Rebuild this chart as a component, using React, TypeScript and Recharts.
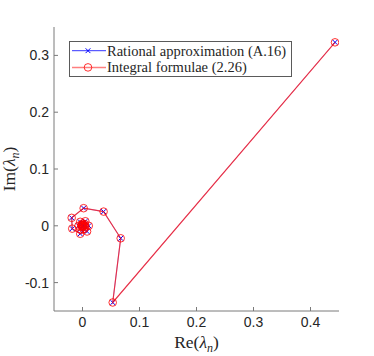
import React from 'react';
import { ScatterChart, Scatter, XAxis, YAxis, Legend } from 'recharts';

const reValues = [
  0.443, 0.053, 0.067, 0.037, 0.002, -0.019, -0.018, -0.004, 0.008, 0.011,
  0.005, -0.004, -0.007, -0.004, 0.002, 0.005, 0.004, 0.0, -0.002, -0.002,
  0.0, 0.002, 0.001, 0.0,
];
const imValues = [
  0.323, -0.135, -0.022, 0.025, 0.031, 0.014, -0.005, -0.014, -0.010, 0.0,
  0.008, 0.007, 0.0, -0.006, -0.006, -0.002, 0.003, 0.004, 0.002, -0.001,
  -0.002, -0.001, 0.001, 0.0,
];
const xTicks = [0, 0.1, 0.2, 0.3, 0.4];
const yTicks = [-0.1, 0, 0.1, 0.2, 0.3];
const seriesNames = ['Rational approximation (A.16)', 'Integral formulae (2.26)'];

const points = reValues.map((re, i) => ({ re, im: imValues[i] }));

const AXIS_COLOR = '#7a7a7a';
const TEXT_COLOR = '#262626';
const BLUE = '#0000ff';
const RED = 'rgba(255,0,0,0.7)';
const RED_LEGEND = 'rgba(255,0,0,0.5)';
const RED_MARK = 'rgba(255,0,0,0.8)';
const TICK_LEN = 4;

const CrossShape = (props: any) => {
  const { cx, cy } = props;
  const s = 2.4;
  return (
    <g>
      <line x1={cx - s} y1={cy - s} x2={cx + s} y2={cy + s} stroke={BLUE} strokeWidth={1} />
      <line x1={cx - s} y1={cy + s} x2={cx + s} y2={cy - s} stroke={BLUE} strokeWidth={1} />
    </g>
  );
};

const CircleShape = (props: any) => {
  const { cx, cy } = props;
  return <circle cx={cx} cy={cy} r={3.8} fill="none" stroke={RED_MARK} strokeWidth={1} />;
};

const fmt = (v: number) => String(v);

const BottomTick = (props: any) => {
  const { x, y, payload } = props;
  return (
    <g>
      <line x1={x} x2={x} y1={y} y2={y - TICK_LEN} stroke={AXIS_COLOR} strokeWidth={1} />
      <text x={x} y={y + 16} textAnchor="middle" fontFamily="Liberation Sans, Arial, sans-serif" fontSize={14} fill={TEXT_COLOR}>
        {fmt(payload.value)}
      </text>
    </g>
  );
};

const TopTick = (props: any) => {
  const { x, y } = props;
  return <line x1={x} x2={x} y1={y} y2={y + TICK_LEN} stroke={AXIS_COLOR} strokeWidth={1} />;
};

const LeftTick = (props: any) => {
  const { x, y, payload } = props;
  return (
    <g>
      <line x1={x} x2={x + TICK_LEN} y1={y} y2={y} stroke={AXIS_COLOR} strokeWidth={1} />
      <text x={x - 5} y={y + 5} textAnchor="end" fontFamily="Liberation Sans, Arial, sans-serif" fontSize={14} fill={TEXT_COLOR}>
        {fmt(payload.value)}
      </text>
    </g>
  );
};

const RightTick = (props: any) => {
  const { x, y } = props;
  return <line x1={x} x2={x - TICK_LEN} y1={y} y2={y} stroke={AXIS_COLOR} strokeWidth={1} />;
};

const XLabel = (props: any) => {
  const { viewBox } = props;
  const cx = viewBox.x + viewBox.width / 2;
  const y = viewBox.y + 37;
  return (
    <text x={cx} y={y} textAnchor="middle" fontFamily="Liberation Serif, Times New Roman, serif" fontSize={17.5} fill={TEXT_COLOR}>
      Re(<tspan fontStyle="italic">λ</tspan>
      <tspan fontStyle="italic" fontSize={12} dy={4}>n</tspan>
      <tspan dy={-4}>)</tspan>
    </text>
  );
};

const YLabel = (props: any) => {
  const { viewBox } = props;
  const cy = viewBox.y + viewBox.height / 2;
  const x = viewBox.x + 15;
  return (
    <text x={x} y={cy} transform={`rotate(-90, ${x}, ${cy})`} textAnchor="middle" fontFamily="Liberation Serif, Times New Roman, serif" fontSize={17.5} fill={TEXT_COLOR}>
      Im(<tspan fontStyle="italic">λ</tspan>
      <tspan fontStyle="italic" fontSize={12} dy={4}>n</tspan>
      <tspan dy={-4}>)</tspan>
    </text>
  );
};

const LegendBox = () => {
  const w = 223;
  const h = 36;
  const rows = [9.7, 26.4];
  return (
    <div style={{ width: w, height: h, border: '1px solid #5a5a5a', background: '#fff', boxSizing: 'border-box' }}>
      <svg width={w - 2} height={h - 2} style={{ display: 'block' }}>
        <line x1={2} x2={36} y1={rows[0] - 1} y2={rows[0] - 1} stroke={BLUE} strokeWidth={0.8} />
        <CrossShape cx={18} cy={rows[0] - 1} />
        <text x={37} y={rows[0] + 4} fontFamily="Liberation Serif, Times New Roman, serif" fontSize={14.5} fill={TEXT_COLOR}>{seriesNames[0]}</text>
        <line x1={2} x2={36} y1={rows[1] - 1} y2={rows[1] - 1} stroke={RED_LEGEND} strokeWidth={1.5} />
        <CircleShape cx={18} cy={rows[1] - 1} />
        <text x={37} y={rows[1] + 4} fontFamily="Liberation Serif, Times New Roman, serif" fontSize={14.5} fill={TEXT_COLOR}>{seriesNames[1]}</text>
      </svg>
    </div>
  );
};

export default function App() {
  return (
    <div style={{ position: 'absolute', left: 0, top: 0, background: '#fff' }}>
      <ScatterChart width={374} height={356} margin={{ top: 27, right: 35, bottom: 0, left: 0 }}>
        <XAxis
          xAxisId="b"
          dataKey="re"
          type="number"
          orientation="bottom"
          domain={[-0.05, 0.45]}
          allowDataOverflow
          ticks={xTicks}
          height={45}
          tickSize={0}
          tickMargin={0}
          tickLine={false}
          axisLine={{ stroke: AXIS_COLOR, strokeWidth: 1 }}
          tick={<BottomTick />}
          interval={0}
          label={<XLabel />}
        />
        <XAxis
          xAxisId="t"
          dataKey="re"
          type="number"
          orientation="top"
          domain={[-0.05, 0.45]}
          allowDataOverflow
          ticks={xTicks}
          height={0}
          tickSize={0}
          tickMargin={0}
          tickLine={false}
          axisLine={{ stroke: AXIS_COLOR, strokeWidth: 1 }}
          tick={<TopTick />}
          interval={0}
        />
        <YAxis
          yAxisId="l"
          dataKey="im"
          type="number"
          orientation="left"
          domain={[-0.15, 0.35]}
          allowDataOverflow
          ticks={yTicks}
          width={54}
          tickSize={0}
          tickMargin={0}
          tickLine={false}
          axisLine={{ stroke: AXIS_COLOR, strokeWidth: 1 }}
          tick={<LeftTick />}
          interval={0}
          label={<YLabel />}
        />
        <YAxis
          yAxisId="r"
          dataKey="im"
          type="number"
          orientation="right"
          domain={[-0.15, 0.35]}
          allowDataOverflow
          ticks={yTicks}
          width={0}
          tickSize={0}
          tickMargin={0}
          tickLine={false}
          axisLine={{ stroke: AXIS_COLOR, strokeWidth: 1 }}
          tick={<RightTick />}
          interval={0}
        />
        <Scatter
          name={seriesNames[0]}
          data={points}
          xAxisId="b"
          yAxisId="l"
          fill={BLUE}
          line={{ stroke: BLUE, strokeWidth: 0.4 }}
          lineType="joint"
          shape={<CrossShape />}
          isAnimationActive={false}
        />
        <Scatter
          name={seriesNames[1]}
          data={points}
          xAxisId="b"
          yAxisId="l"
          fill="#ff0000"
          line={{ stroke: RED, strokeWidth: 1.2 }}
          lineType="joint"
          shape={<CircleShape />}
          isAnimationActive={false}
        />
        <Legend
          layout="vertical"
          align="center"
          verticalAlign="middle"
          content={<LegendBox />}
          wrapperStyle={{ position: 'absolute', left: 69, top: 41, width: 223, height: 36 }}
        />
      </ScatterChart>
    </div>
  );
}
